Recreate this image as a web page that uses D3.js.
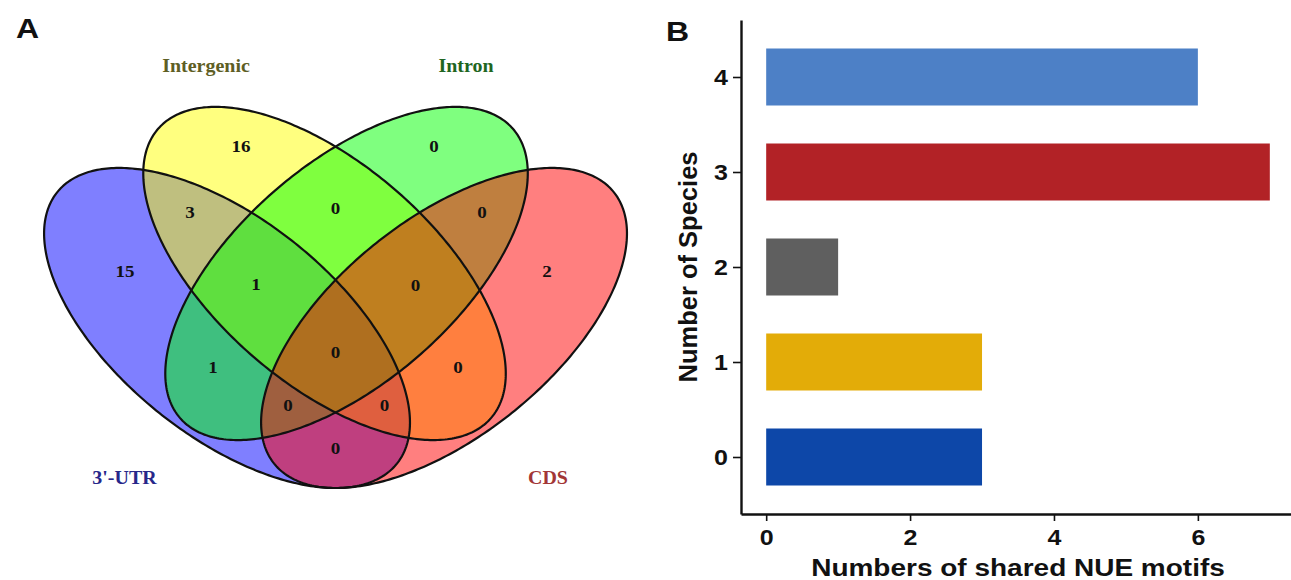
<!DOCTYPE html>
<html>
<head>
<meta charset="utf-8">
<script src="https://cdn.jsdelivr.net/npm/d3@7"></script>
<style>
  html, body { margin: 0; padding: 0; background: #ffffff; }
  svg { display: block; }
</style>
</head>
<body>
<svg id="fig" width="1291" height="580"></svg>
<script>
// ---- Panel A: four-set Venn of NUE motif locations ----
const vennSets = ["3'-UTR", "Intergenic", "Intron", "CDS"];
// each region: indices of the sets it belongs to, and its motif count
const vennRegionSets = [
  [0], [1], [2], [3],
  [0, 1], [1, 2], [2, 3],
  [0, 1, 2], [0, 2], [1, 2, 3], [1, 3],
  [0, 1, 2, 3], [0, 2, 3], [0, 1, 3], [0, 3]
];
const vennRegionCounts = [15, 16, 0, 2, 3, 0, 0, 1, 1, 0, 0, 0, 0, 0, 0];

// ---- Panel B: shared motifs by number of species ----
const speciesLevels = ["0", "1", "2", "3", "4"];
const sharedMotifs = [3, 3, 1, 7, 6];
const xTickValues = [0, 2, 4, 6];

// ---- styling ----
const setFills = ["#0000ff", "#ffff00", "#00ff00", "#ff0000"];
const setLabelColors = ["#27278a", "#5e5e24", "#1f661f", "#a23636"];
const barColors = ["#0d47a8", "#e3ac08", "#5f5f5f", "#b22226", "#4d80c6"];

// Ellipse geometry in Venn units (x 0..1, y 0..0.8), rotation in degrees
const ellipseShapes = [
  { cx: 0.3376, cy: 0.3458, a: 0.324, b: 0.162, rot: 141.4 },
  { cx: 0.4829, cy: 0.4270, a: 0.3286, b: 0.1632, rot: 139 },
  { cx: 0.5157, cy: 0.4270, a: 0.3286, b: 0.1632, rot: 41 },
  { cx: 0.6610, cy: 0.3458, a: 0.324, b: 0.162, rot: 38.6 }
];
// anchor for each region's count, Venn units
const regionAnchors = [
  [0.1855, 0.4307], [0.3584, 0.6170], [0.6461, 0.6170], [0.8145, 0.4307],
  [0.2824, 0.5186], [0.4993, 0.5246], [0.7176, 0.5186],
  [0.3808, 0.4113], [0.3167, 0.2876], [0.6185, 0.4098], [0.6818, 0.2876],
  [0.4993, 0.3104], [0.4285, 0.2310], [0.5723, 0.2310], [0.4993, 0.1674]
];
const setLabelAnchors = [[0.1848, 0.1222], [0.3063, 0.7362], [0.6937, 0.7362], [0.8159, 0.1222]];

const svg = d3.select("#fig");
const squash = 0.85;

// Venn units -> page (same scale on both axes)
const vx = d3.scaleLinear().domain([0, 1]).range([0.5, 671.5]);
const vy = d3.scaleLinear().domain([0, 0.8]).range([560, 23.2]);

function ellipsePoints(e) {
  const th = e.rot * Math.PI / 180;
  return d3.range(0, 360, 1).map(deg => {
    const t = deg * Math.PI / 180;
    return [
      e.cx + e.a * Math.cos(t) * Math.cos(th) - e.b * Math.sin(t) * Math.sin(th),
      e.cy + e.a * Math.cos(t) * Math.sin(th) + e.b * Math.sin(t) * Math.cos(th)
    ];
  });
}
const ellipseLine = d3.line().x(p => vx(p[0])).y(p => vy(p[1])).curve(d3.curveLinearClosed);

const venn = svg.append("g");
venn.selectAll("path.fill")
  .data(ellipseShapes)
  .join("path")
  .attr("class", "fill")
  .attr("d", e => ellipseLine(ellipsePoints(e)))
  .attr("fill", (e, i) => setFills[i])
  .attr("fill-opacity", 0.5)
  .attr("stroke", "none");
venn.selectAll("path.edge")
  .data(ellipseShapes)
  .join("path")
  .attr("class", "edge")
  .attr("d", e => ellipseLine(ellipsePoints(e)))
  .attr("fill", "none")
  .attr("stroke", "#111")
  .attr("stroke-width", 2.2);

venn.selectAll("text.count")
  .data(vennRegionCounts)
  .join("text")
  .attr("class", "count")
  .attr("transform", (d, i) => `translate(${vx(regionAnchors[i][0])},${vy(regionAnchors[i][1])}) scale(1,0.9)`)
  .attr("text-anchor", "middle")
  .attr("dy", "0.35em")
  .attr("font-family", "'Liberation Serif', 'DejaVu Serif', serif")
  .attr("font-weight", "bold")
  .attr("font-size", 19)
  .attr("fill", "#111")
  .text(d => d);

venn.selectAll("text.setlabel")
  .data(vennSets)
  .join("text")
  .attr("class", "setlabel")
  .attr("transform", (d, i) => `translate(${vx(setLabelAnchors[i][0])},${vy(setLabelAnchors[i][1])}) scale(1,0.9)`)
  .attr("text-anchor", "middle")
  .attr("dy", "0.35em")
  .attr("font-family", "'Liberation Serif', 'DejaVu Serif', serif")
  .attr("font-weight", "bold")
  .attr("font-size", 20)
  .attr("fill", (d, i) => setLabelColors[i])
  .text(d => d);

// ---- Panel B ----
const sans = "'Liberation Sans', Arial, Helvetica, sans-serif";
const plotLeft = 741, plotRight = 1295, plotTop = 20, plotBottom = 514;

const x = d3.scaleLinear().domain([-0.35, 7.35]).range([plotLeft, plotRight]);
const y = d3.scalePoint().domain(speciesLevels).range([plotBottom, plotTop]).padding(0.6);
const barH = y.step() * 0.6;

const bars = svg.append("g");
bars.selectAll("rect")
  .data(sharedMotifs)
  .join("rect")
  .attr("x", x(0))
  .attr("y", (d, i) => y(speciesLevels[i]) - barH / 2)
  .attr("width", d => x(d) - x(0))
  .attr("height", barH)
  .attr("fill", (d, i) => barColors[i]);

const yAxis = svg.append("g")
  .attr("transform", `translate(${plotLeft},0)`)
  .call(d3.axisLeft(y).tickSize(8).tickSizeOuter(0).tickPadding(5));
const xAxis = svg.append("g")
  .attr("transform", `translate(0,${plotBottom})`)
  .call(d3.axisBottom(x).tickValues(xTickValues).tickFormat(d3.format("d")).tickSize(7).tickSizeOuter(0));

[yAxis, xAxis].forEach(ax => {
  ax.select(".domain").attr("stroke", "#111").attr("stroke-width", 2.4);
  ax.selectAll(".tick line").attr("stroke", "#111").attr("stroke-width", 1.6);
  ax.selectAll(".tick text")
    .attr("font-family", sans)
    .attr("font-weight", "bold")
    .attr("font-size", 25)
    .attr("fill", "#111");
});
yAxis.selectAll(".tick text")
  .attr("dy", null)
  .attr("y", 8.9)
  .attr("transform", `scale(1,${squash})`);
xAxis.selectAll(".tick text")
  .attr("dy", null)
  .attr("y", 31 / squash)
  .attr("transform", `scale(1,${squash})`);

// axis titles
svg.append("text")
  .attr("transform", `translate(${(plotLeft + plotRight) / 2},575.5) scale(1,0.83)`)
  .attr("text-anchor", "middle")
  .attr("font-family", sans)
  .attr("font-weight", "bold")
  .attr("font-size", 28)
  .attr("fill", "#111")
  .text("Numbers of shared NUE motifs");

svg.append("text")
  .attr("transform", `translate(697,${(plotTop + plotBottom) / 2}) rotate(-90)`)
  .attr("text-anchor", "middle")
  .attr("font-family", sans)
  .attr("font-weight", "bold")
  .attr("font-size", 25.5)
  .attr("fill", "#111")
  .text("Number of Species");

// panel letters
svg.append("text")
  .attr("transform", `translate(16,38) scale(1,${squash})`)
  .attr("font-family", sans)
  .attr("font-weight", "bold")
  .attr("font-size", 32)
  .attr("fill", "#111")
  .text("A");
svg.append("text")
  .attr("transform", `translate(666,41) scale(1,${squash})`)
  .attr("font-family", sans)
  .attr("font-weight", "bold")
  .attr("font-size", 32)
  .attr("fill", "#111")
  .text("B");
</script>
</body>
</html>
